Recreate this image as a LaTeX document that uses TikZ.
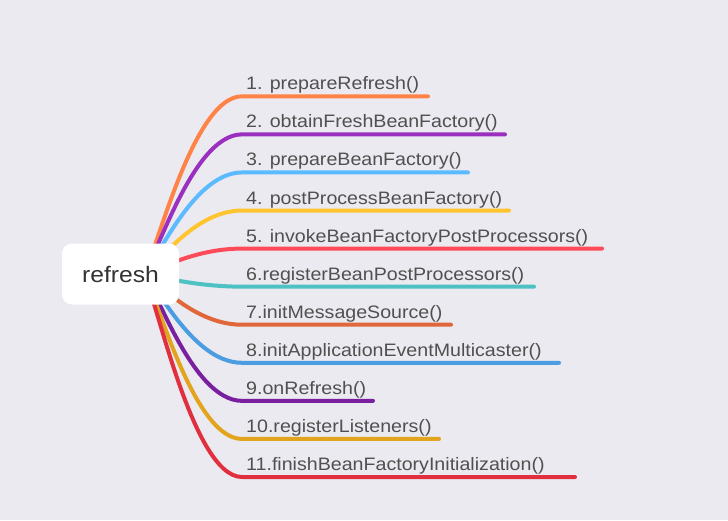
\documentclass[tikz,border=0pt]{standalone}
\usepackage{fontspec}
\setmainfont{Liberation Sans}
\newfontfamily\labfont[FakeStretch=1.09]{Liberation Sans}
\newfontfamily\rootfont[FakeStretch=1.1]{Liberation Sans}
\usetikzlibrary{backgrounds,calc}
\definecolor{bg}{HTML}{EBEAF0}
\definecolor{labgray}{HTML}{505050}
\definecolor{roottext}{HTML}{333333}
\definecolor{c1}{HTML}{FF8247}
\definecolor{c2}{HTML}{9B30C0}
\definecolor{c3}{HTML}{5CBAFF}
\definecolor{c4}{HTML}{FFC531}
\definecolor{c5}{HTML}{FF4A5A}
\definecolor{c6}{HTML}{4EC2C2}
\definecolor{c7}{HTML}{E0673A}
\definecolor{c8}{HTML}{4A9DE0}
\definecolor{c9}{HTML}{7A1FA0}
\definecolor{c10}{HTML}{E2A41D}
\definecolor{c11}{HTML}{E0303F}
\begin{document}
\begin{tikzpicture}[x=1pt,y=-1pt,
  branch/.style={line width=4pt, line cap=round},
  lab/.style={anchor=base west, inner sep=0pt, text=labgray, font=\labfont\fontsize{18}{21}\selectfont},
  rootbox/.style={fill=white, rounded corners=10pt, minimum width=117pt, minimum height=61pt, inner sep=0pt, text=roottext, font=\rootfont\fontsize{22.4}{26}\selectfont}]
\useasboundingbox (0,0) rectangle (728,520);
\node[rootbox] (root) at (120.5,274) {refresh};
\begin{scope}[on background layer]
\fill[bg] (0,0) rectangle (728,520);
\coordinate (o) at ($(root.center)+(21.5,0)$);
\foreach \i/\txt/\xe in {
  1/{1. prepareRefresh()}/428,
  2/{2. obtainFreshBeanFactory()}/505,
  3/{3. prepareBeanFactory()}/468,
  4/{4. postProcessBeanFactory()}/509,
  5/{5. invokeBeanFactoryPostProcessors()}/602,
  6/{6.registerBeanPostProcessors()}/534,
  7/{7.initMessageSource()}/451,
  8/{8.initApplicationEventMulticaster()}/559,
  9/{9.onRefresh()}/373,
  10/{10.registerListeners()}/439,
  11/{11.finishBeanFactoryInitialization()}/575}{
  \pgfmathsetmacro\yy{96.3+38.07*(\i-1)}
  \pgfmathsetmacro\yl{\yy-6.5}
  \coordinate (s\i) at (242,\yy);
  \coordinate (e\i) at (\xe,\yy);
  \draw[branch,c\i] (o) .. controls +(10,0) and (190,\yy) .. (s\i) -- (e\i);
  \node[lab] (l\i) at (246,\yl) {\txt};
}
\end{scope}
\end{tikzpicture}
\end{document}
